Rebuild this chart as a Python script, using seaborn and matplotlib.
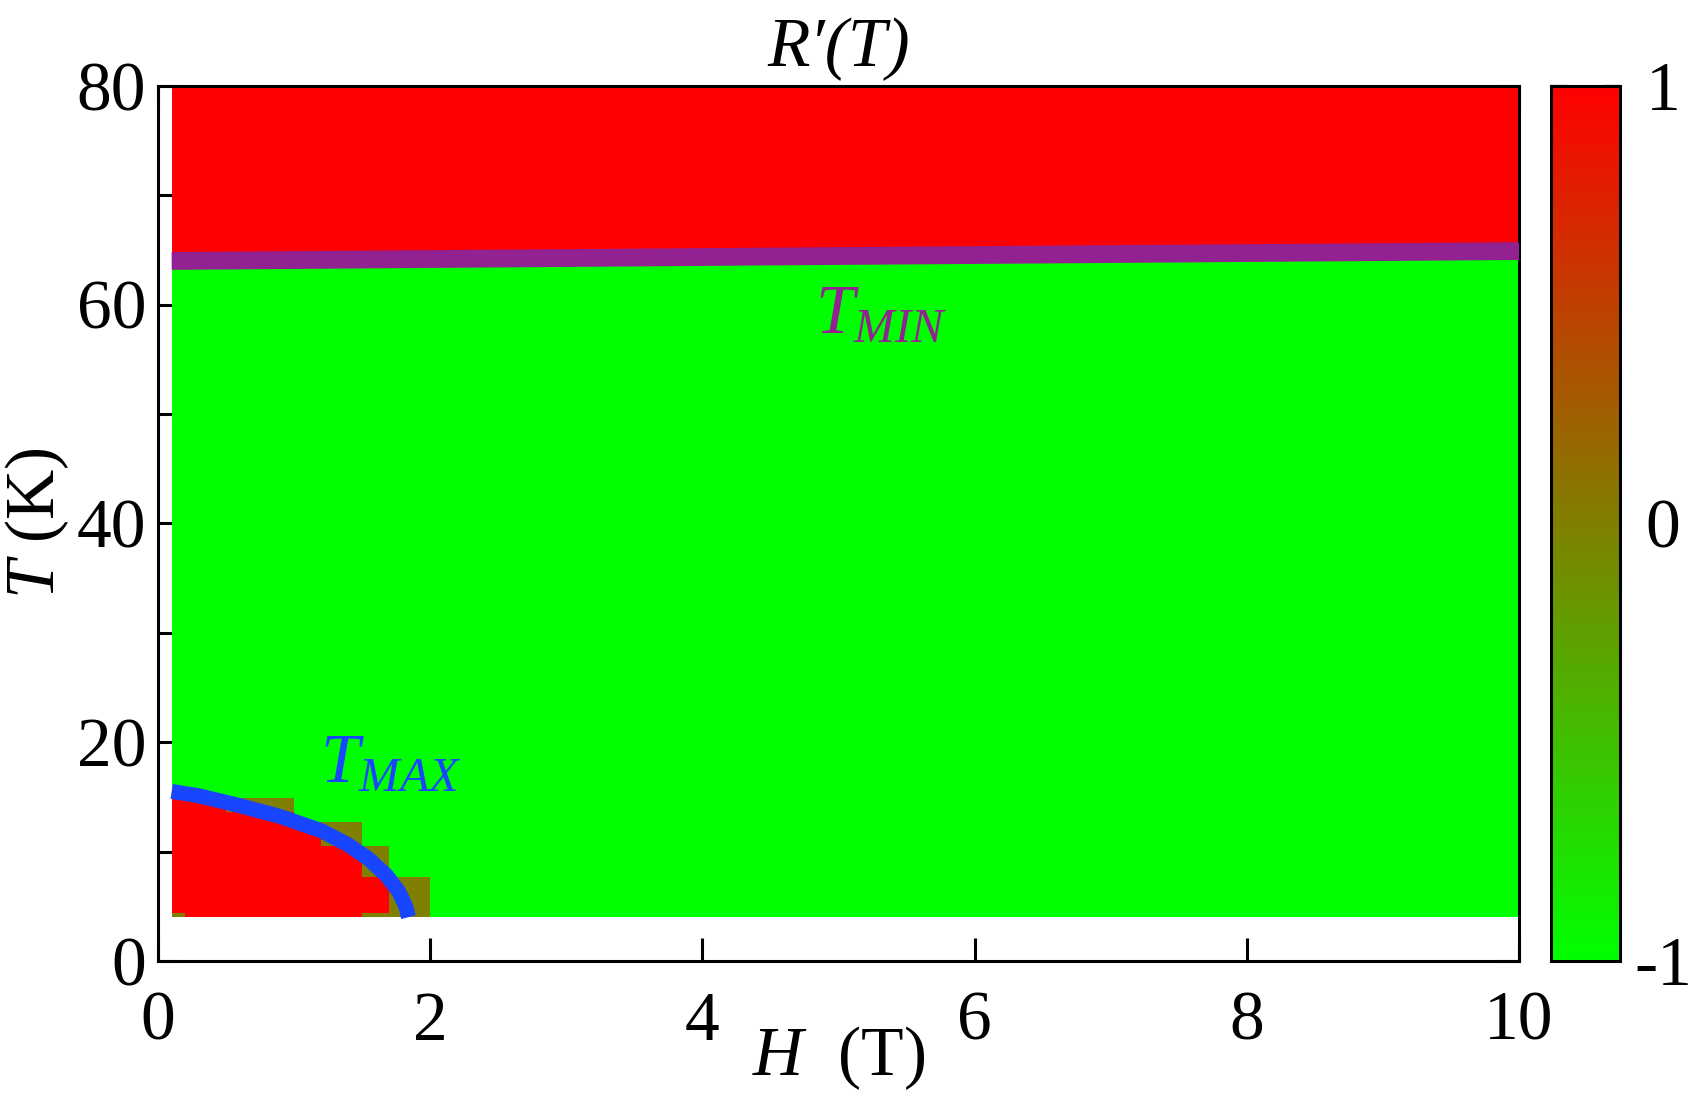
import numpy as np
import matplotlib
matplotlib.use("Agg")
import matplotlib.pyplot as plt
import seaborn as sns
from matplotlib.colors import LinearSegmentedColormap
from matplotlib.ticker import MultipleLocator, FixedLocator

# ==============================
# DATA
# ==============================
# cell edges of the R'(T) sign map: field H (T) and temperature T (K)
field_edges = [0.1, 0.2, 0.5, 1.0, 1.2, 1.5, 1.7, 2.0, 10.0]
temp_edges = [4.0, 4.4, 7.7, 10.5, 12.7, 13.6, 14.9, 64.5, 80.0]
# sign of R'(T) per cell, bottom row first (1 = red, -1 = green, 0 = mixed)
rprime_sign = [
    [0, 1, 1, 1, 1, 0, 0, -1],
    [1, 1, 1, 1, 1, 1, 0, -1],
    [1, 1, 1, 1, 1, 0, -1, -1],
    [1, 1, 1, 1, 0, -1, -1, -1],
    [1, 1, 1, -1, -1, -1, -1, -1],
    [1, 1, 0, -1, -1, -1, -1, -1],
    [-1, -1, -1, -1, -1, -1, -1, -1],
    [1, 1, 1, 1, 1, 1, 1, 1],
]

# T_MAX line (blue) and T_MIN line (purple)
tmax_field = [0.1, 0.3, 0.6, 0.9, 1.2, 1.4, 1.55, 1.68, 1.77, 1.82, 1.84]
tmax_temp = [15.5, 15.1, 14.2, 13.2, 11.9, 10.6, 9.3, 7.8, 6.3, 5.0, 4.0]
tmin_field = [0.1, 5.0, 10.0]
tmin_temp = [64.0, 64.45, 64.9]

x_ticks = [0, 2, 4, 6, 8, 10]
y_ticks = [0, 20, 40, 60, 80]
cbar_ticks = [-1, 0, 1]
cbar_labels = ["-1", "0", "1"]

blue = "#1846ff"
purple = "#922192"

# ==============================
# STYLE
# ==============================
sns.set_style("ticks")
plt.rcParams["font.family"] = ["Liberation Serif", "DejaVu Serif"]
plt.rcParams["mathtext.fontset"] = "custom"
plt.rcParams["mathtext.rm"] = "Liberation Serif"
plt.rcParams["mathtext.it"] = "Liberation Serif:italic"
plt.rcParams["axes.unicode_minus"] = False
for key in ["text.color", "axes.labelcolor", "xtick.color", "ytick.color", "axes.edgecolor"]:
    plt.rcParams[key] = "black"

cmap = LinearSegmentedColormap.from_list("green_red", ["#00ff00", "#ff0000"])

fig = plt.figure(figsize=(8.535, 5.51), dpi=200)
ax = fig.add_axes([0.0926, 0.128, 0.7973, 0.794])
cax = fig.add_axes([0.9086, 0.128, 0.0404, 0.794])

# ==============================
# MAP + LINES
# ==============================
mesh = ax.pcolormesh(field_edges, temp_edges, np.array(rprime_sign),
                     cmap=cmap, vmin=-1, vmax=1, zorder=1)

sns.lineplot(x=tmin_field, y=tmin_temp, color=purple, linewidth=6.4,
             sort=False, ax=ax, solid_capstyle="butt", zorder=3)
sns.lineplot(x=tmax_field, y=tmax_temp, color=blue, linewidth=5.4,
             sort=False, ax=ax, solid_capstyle="butt", zorder=3)

ax.text(4.83, 57.4, r"$T_{MIN}$", color=purple, fontsize=25, va="baseline")
ax.text(1.19, 16.3, r"$T_{MAX}$", color=blue, fontsize=25, va="baseline")

# ==============================
# AXES
# ==============================
ax.set_xlim(0, 10)
ax.set_ylim(0, 80)
ax.set_xticks(x_ticks)
ax.set_yticks(y_ticks)
ax.yaxis.set_minor_locator(MultipleLocator(10))
ax.tick_params(which="both", direction="in", top=True, right=True,
               length=8.2, width=1.1, labelsize=25)
ax.tick_params(axis="x", which="both", pad=11)
ax.tick_params(axis="y", which="both", pad=4.3)
for sp in ax.spines.values():
    sp.set_linewidth(1.1)

ax.set_title("R\u2032(T)", fontstyle="italic", fontsize=25, pad=7)
ax.set_xlabel("$H$  (T)", fontsize=25, labelpad=-11)
ax.set_ylabel("$T$ (K)", fontsize=25, labelpad=2)

# ==============================
# COLORBAR
# ==============================
cb = fig.colorbar(mesh, cax=cax, ticks=cbar_ticks)
cb.ax.set_yticklabels(cbar_labels)
cb.ax.yaxis.set_minor_locator(FixedLocator([-0.5, 0.5]))
cb.ax.tick_params(which="both", direction="in", left=True, right=True,
                  length=6, width=0.8, labelsize=25, pad=15.5)
for lab in cb.ax.get_yticklabels():
    lab.set_ha("center")
cb.outline.set_linewidth(1.1)

fig.savefig("out.png", dpi=200)
